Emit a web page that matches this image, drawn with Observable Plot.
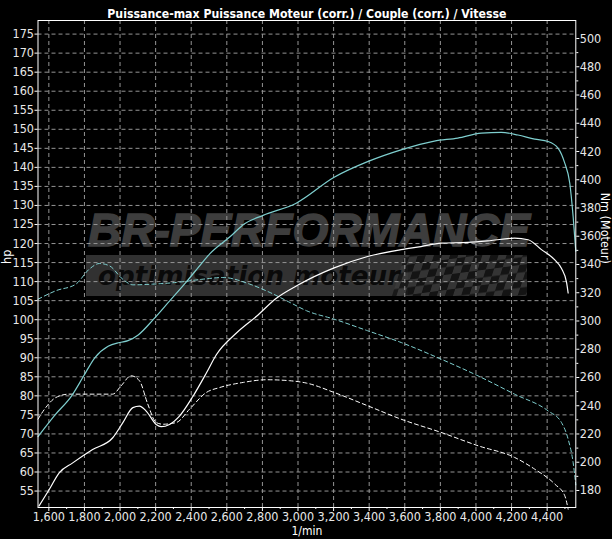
<!DOCTYPE html>
<html><head><meta charset="utf-8">
<script src="https://cdn.jsdelivr.net/npm/d3@7"></script>
<script src="https://cdn.jsdelivr.net/npm/@observablehq/plot@0.6"></script>
<style>
html,body{margin:0;padding:0;background:#000;}
#chart svg{display:block;}
</style></head><body><div id="chart"></div>
<script>
// ---- texts ----
const title = "Puissance-max Puissance Moteur (corr.) / Couple (corr.) / Vitesse";
const xLabel = "1/min";
const yLeftLabel = "hp";
const yRightLabel = "Nm (Moteur)";
const watermarkTitle = "BR-PERFORMANCE";
const watermarkSub = "optimisation moteur";

// ---- ticks ----
const rpmTicks = [1600,1800,2000,2200,2400,2600,2800,3000,3200,3400,3600,3800,4000,4200,4400];
const rpmMinor = [1700,1900,2100,2300,2500,2700,2900,3100,3300,3500,3700,3900,4100,4300,4500];
const hpTicks = [55,60,65,70,75,80,85,90,95,100,105,110,115,120,125,130,135,140,145,150,155,160,165,170,175];
const nmTicks = [180,200,220,240,260,280,300,320,340,360,380,400,420,440,460,480,500];
const nmMinor = [190,210,230,250,270,290,310,330,350,370,390,410,430,450,470,490];

// ---- series: [rpm, value] ----
const powerMaxHp = [[1539,69.3],[1635,75],[1728,80],[1793,85],[1858,90],[1933,93],[1998,94],[2045,94.5],[2102,96],[2186,100],[2280,105],[2374,110],[2462,115],[2504,117.3],[2616,121.7],[2700,125.2],[2804,127.4],[2990,130.6],[3203,137.4],[3391,141.5],[3579,144.6],[3766,146.9],[3898,147.7],[4030,149.0],[4142,149.2],[4236,148.5],[4330,147.4],[4405,146.8],[4462,145.0],[4499,141.1],[4527,135.9],[4546,127.1],[4561,118.0]];
const powerHp = [[1545,51.1],[1602,55.4],[1658,59.8],[1734,62.4],[1846,65.9],[1959,69.0],[2015,72.9],[2072,76.9],[2109,77.3],[2147,76.0],[2203,72.5],[2231,71.9],[2278,72.5],[2334,74.7],[2410,79.9],[2485,86.0],[2541,90.8],[2654,96.5],[2767,100.9],[2880,105.7],[3000,109.1],[3203,113.6],[3391,116.6],[3579,118.4],[3691,119.2],[3804,120.1],[3954,120.3],[4086,120.8],[4217,121.4],[4293,121.0],[4368,118.4],[4443,115.7],[4480,113.5],[4509,109.8],[4518,107.0]];
const torqueMaxNm = [[1539,315.4],[1639,321.4],[1752,326.1],[1827,336.7],[1884,340.7],[1940,339.1],[2015,329.6],[2072,325.6],[2185,326.1],[2316,327.3],[2466,329.6],[2579,330.8],[2729,326.1],[2842,320.2],[2955,313.1],[3049,307.2],[3203,301.3],[3391,293.1],[3579,284.8],[3804,273.0],[4011,261.2],[4217,248.2],[4405,236.4],[4480,228.2],[4518,216.3],[4546,199.8],[4561,184.0]];
const torqueNm = [[1539,230.5],[1583,238.8],[1639,245.8],[1714,248.2],[1827,248.2],[1959,248.2],[2006,254.1],[2062,261.2],[2109,257.7],[2156,241.1],[2203,228.1],[2241,226.9],[2316,228.1],[2391,237.6],[2485,249.4],[2560,252.9],[2692,256.5],[2823,258.4],[2955,257.7],[3049,256.0],[3203,249.4],[3391,240.0],[3579,230.5],[3804,221.1],[4011,211.7],[4217,203.4],[4330,195.1],[4443,184.5],[4499,176.3],[4518,166.8]];

// secondary axis mapping (Nm -> hp scale)
const nmToHp = nm => 55.15 + (nm - 180) * (173.84 - 55.15) / 320;
const hpToNm = hp => 180 + (hp - 55.15) * 320 / (173.84 - 55.15);

const CYAN = "#7fcfcf";
const GRID = "#949494";
const FONT = "'Liberation Sans Narrow', 'DejaVu Sans Condensed', 'Liberation Sans', sans-serif";

const asRows = (arr, key) => arr.map(([rpm, v]) => ({rpm, v: key === "nm" ? nmToHp(v) : v}));

const plot = Plot.plot({
  width: 612, height: 539,
  marginLeft: 37.5, marginRight: 36.7, marginTop: 20, marginBottom: 32,
  style: {background: "#000", color: "#fff", fontFamily: FONT, fontSize: "12px"},
  x: {domain: [1539, 4561]},
  y: {domain: [50.68, 178.57]},
  marks: [
    Plot.ruleY(hpTicks, {stroke: GRID, strokeDasharray: "4,3", strokeWidth: 1}),
    Plot.ruleX(rpmTicks, {stroke: GRID, strokeDasharray: "4,3", strokeWidth: 1}),
    Plot.line(asRows(torqueNm, "nm"), {x: "rpm", y: "v", stroke: "#fff", strokeWidth: 1, strokeDasharray: "4,3", curve: "monotone-x"}),
    Plot.line(asRows(torqueMaxNm, "nm"), {x: "rpm", y: "v", stroke: CYAN, strokeWidth: 1, strokeDasharray: "4,3", curve: "monotone-x"}),
    Plot.line(asRows(powerHp, "hp"), {x: "rpm", y: "v", stroke: "#fff", strokeWidth: 1.2, curve: "monotone-x"}),
    Plot.line(asRows(powerMaxHp, "hp"), {x: "rpm", y: "v", stroke: CYAN, strokeWidth: 1.2, curve: "monotone-x"}),
    Plot.frame({stroke: "#fff", strokeWidth: 1}),
    Plot.axisX(rpmTicks, {tickSize: 4, tickPadding: 1, tickFormat: d3.format(","), label: null, stroke: "#fff", fill: "#e8e8e8", fontSize: 12.5}),
    Plot.axisX(rpmMinor, {tickSize: 2, tickFormat: () => "", label: null, stroke: "#fff"}),
    Plot.axisY(hpTicks, {anchor: "left", tickSize: 3, tickPadding: 1, label: null, stroke: "#fff", fill: "#e8e8e8", fontSize: 12.5}),
    Plot.axisY(nmTicks.map(nmToHp), {anchor: "right", tickSize: 3, tickPadding: 1, tickFormat: d => String(Math.round(hpToNm(d))), label: null, stroke: "#fff", fill: "#e8e8e8", fontSize: 12.5}),
    Plot.axisY(nmMinor.map(nmToHp), {anchor: "right", tickSize: 2, tickFormat: () => "", label: null, stroke: "#fff"}),
    Plot.text([title], {frameAnchor: "top", dy: -11, fill: "#fff", fontWeight: "bold", fontSize: 12.2}),
    Plot.text([xLabel], {frameAnchor: "bottom", dy: 27.5, fill: "#fff", fontSize: 12}),
    Plot.text([yLeftLabel], {frameAnchor: "left", dx: -31, rotate: -90, fill: "#fff", fontSize: 12.5}),
    Plot.text([yRightLabel], {frameAnchor: "right", dx: 29, rotate: 90, fill: "#fff", fontSize: 12.5})
  ]
});

// ---- watermark (decoration, behind grid) ----
const svg = d3.select(plot);
const defs = svg.insert("defs", ":first-child");
const pat = defs.append("pattern").attr("id", "chk").attr("width", 16).attr("height", 16)
  .attr("patternUnits", "userSpaceOnUse").attr("patternTransform", "skewX(-25) rotate(-8)");
pat.append("rect").attr("width", 16).attr("height", 16).attr("fill", "#161616");
pat.append("rect").attr("width", 8).attr("height", 8).attr("fill", "#3a3a3a");
pat.append("rect").attr("x", 8).attr("y", 8).attr("width", 8).attr("height", 8).attr("fill", "#3a3a3a");
const wm = svg.insert("g", "g[aria-label]").attr("aria-hidden", "true").attr("text-anchor", "start");
wm.append("text").attr("x", 88).attr("y", 246).text(watermarkTitle)
  .attr("text-anchor", "start")
  .attr("fill", "#3d3d3d").attr("font-family", "'Liberation Sans', Arial, sans-serif")
  .attr("font-weight", "bold").attr("font-style", "italic").attr("font-size", 46)
  .attr("stroke", "#3d3d3d").attr("stroke-width", 1.5)
  .attr("textLength", 442).attr("lengthAdjust", "spacingAndGlyphs");
wm.append("rect").attr("x", 86).attr("y", 255).attr("width", 322).attr("height", 41).attr("fill", "#313131");
wm.append("path").attr("d", "M405,255 L527,255 L527,296 L392,296 Z").attr("fill", "url(#chk)").attr("opacity", 0.9);
wm.append("text").attr("x", 98).attr("y", 285).text(watermarkSub)
  .attr("text-anchor", "start")
  .attr("fill", "#0a0a0a").attr("font-family", "'DejaVu Sans', Verdana, sans-serif")
  .attr("font-weight", "bold").attr("font-style", "italic").attr("font-size", 27)
  .attr("textLength", 302).attr("lengthAdjust", "spacingAndGlyphs");

document.getElementById("chart").appendChild(plot);
</script>
</body></html>
